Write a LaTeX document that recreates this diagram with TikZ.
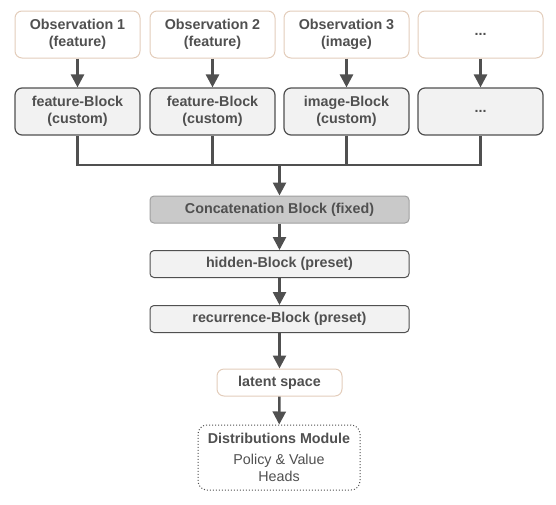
\documentclass[tikz,border=0pt]{standalone}
\usepackage{fontspec}
\setmainfont{Liberation Sans}
\usetikzlibrary{arrows.meta,calc}
\definecolor{ink}{HTML}{505050}
\definecolor{obsline}{HTML}{E3CDBB}
\definecolor{blockfill}{HTML}{F2F2F2}
\definecolor{concatfill}{HTML}{C9C9C9}

\begin{document}
\begin{tikzpicture}[x=1pt,y=-1pt,
    every node/.style={text=ink,font=\fontsize{14.3}{17.5}\selectfont\bfseries,align=center},
    obsbox/.style={draw=obsline,line width=1pt,rounded corners=7pt,fill=white,minimum width=125pt,minimum height=47pt},
    blockbox/.style={draw=ink,line width=1.2pt,rounded corners=7pt,fill=blockfill,minimum width=125pt,minimum height=47pt},
    widebox/.style={draw=ink,line width=1pt,rounded corners=4pt,fill=blockfill,minimum width=259pt,minimum height=27pt},
    link/.style={draw=ink,line width=2.6pt},
    flow/.style={link,-{Triangle[length=13pt,width=13pt]}}]
    \useasboundingbox (0,0) rectangle (556,504);

    % inputs
    \node[obsbox] (o1) at (77.5,34.5) {Observation 1\\(feature)};
    \node[obsbox] (o2) at (212.5,34.5) {Observation 2\\(feature)};
    \node[obsbox] (o3) at (346.5,34.5) {Observation 3\\(image)};
    \node[obsbox] (o4) at (480.5,34.5) {...};

    \node[blockbox] (b1) at (77.5,111.5) {feature-Block\\(custom)};
    \node[blockbox] (b2) at (212.5,111.5) {feature-Block\\(custom)};
    \node[blockbox] (b3) at (346.5,111.5) {image-Block\\(custom)};
    \node[blockbox] (b4) at (480.5,111.5) {...};

    \foreach \i in {1,...,4}
      \draw[flow] (o\i) -- (b\i);

    % body
    \node[widebox,draw=gray!75,fill=concatfill] (cat) at (279.5,209.5) {Concatenation Block (fixed)};
    \node[widebox] (hid) at (279.5,264) {hidden-Block (preset)};
    \node[widebox] (rec) at (279.5,319) {recurrence-Block (preset)};
    \node[obsbox,minimum height=27pt] (lat) at (279.5,382.5) {latent space};
    \node[draw=ink,dotted,line width=1pt,rounded corners=9pt,minimum width=162pt,minimum height=65pt] (dist) at (279,457.5)
      {Distributions Module\\[3pt]{\mdseries Policy \& Value}\\{\mdseries Heads}};

    \coordinate (merge) at (279.5,165);
    \draw[link] (b1.south) |- (b4.south |- merge) -- (b4.south);
    \draw[link] (b2.south) -- (b2.south |- merge);
    \draw[link] (b3.south) -- (b3.south |- merge);
    \draw[flow] (merge) -- (cat);

    \draw[flow] (cat) -- (hid);
    \draw[flow] (hid) -- (rec);
    \draw[flow] (rec) -- (lat);
    \draw[flow] (lat) -- (dist);
  \end{tikzpicture}
\end{document}
